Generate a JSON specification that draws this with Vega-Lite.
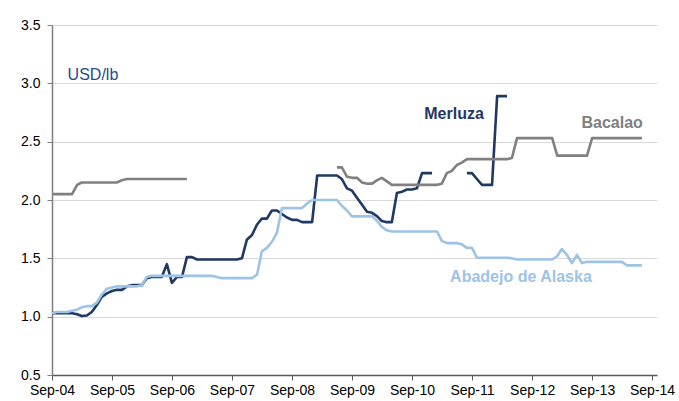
{
  "$schema": "https://vega.github.io/schema/vega-lite/v6.json",
  "width": 605,
  "height": 350,
  "autosize": "none",
  "padding": {"left": 52, "top": 25, "right": 22, "bottom": 26},
  "config": {"view": {"stroke": null}, "font": "Liberation Sans"},
  "datasets": {
    "lines": [
      {"s": "Merluza", "g": "M1", "d": "2004-09-01", "v": 1.03},
      {"s": "Merluza", "g": "M1", "d": "2004-10-01", "v": 1.03},
      {"s": "Merluza", "g": "M1", "d": "2004-11-01", "v": 1.03},
      {"s": "Merluza", "g": "M1", "d": "2004-12-01", "v": 1.03},
      {"s": "Merluza", "g": "M1", "d": "2005-01-01", "v": 1.03},
      {"s": "Merluza", "g": "M1", "d": "2005-02-01", "v": 1.02},
      {"s": "Merluza", "g": "M1", "d": "2005-03-01", "v": 1.005},
      {"s": "Merluza", "g": "M1", "d": "2005-04-01", "v": 1.01},
      {"s": "Merluza", "g": "M1", "d": "2005-05-01", "v": 1.04},
      {"s": "Merluza", "g": "M1", "d": "2005-06-01", "v": 1.10},
      {"s": "Merluza", "g": "M1", "d": "2005-07-01", "v": 1.17},
      {"s": "Merluza", "g": "M1", "d": "2005-08-01", "v": 1.20},
      {"s": "Merluza", "g": "M1", "d": "2005-09-01", "v": 1.22},
      {"s": "Merluza", "g": "M1", "d": "2005-10-01", "v": 1.23},
      {"s": "Merluza", "g": "M1", "d": "2005-11-01", "v": 1.23},
      {"s": "Merluza", "g": "M1", "d": "2005-12-01", "v": 1.26},
      {"s": "Merluza", "g": "M1", "d": "2006-01-01", "v": 1.27},
      {"s": "Merluza", "g": "M1", "d": "2006-02-01", "v": 1.27},
      {"s": "Merluza", "g": "M1", "d": "2006-03-01", "v": 1.27},
      {"s": "Merluza", "g": "M1", "d": "2006-04-01", "v": 1.33},
      {"s": "Merluza", "g": "M1", "d": "2006-05-01", "v": 1.34},
      {"s": "Merluza", "g": "M1", "d": "2006-06-01", "v": 1.34},
      {"s": "Merluza", "g": "M1", "d": "2006-07-01", "v": 1.34},
      {"s": "Merluza", "g": "M1", "d": "2006-08-01", "v": 1.45},
      {"s": "Merluza", "g": "M1", "d": "2006-09-01", "v": 1.29},
      {"s": "Merluza", "g": "M1", "d": "2006-10-01", "v": 1.34},
      {"s": "Merluza", "g": "M1", "d": "2006-11-01", "v": 1.34},
      {"s": "Merluza", "g": "M1", "d": "2006-12-01", "v": 1.51},
      {"s": "Merluza", "g": "M1", "d": "2007-01-01", "v": 1.51},
      {"s": "Merluza", "g": "M1", "d": "2007-02-01", "v": 1.49},
      {"s": "Merluza", "g": "M1", "d": "2007-03-01", "v": 1.49},
      {"s": "Merluza", "g": "M1", "d": "2007-04-01", "v": 1.49},
      {"s": "Merluza", "g": "M1", "d": "2007-05-01", "v": 1.49},
      {"s": "Merluza", "g": "M1", "d": "2007-06-01", "v": 1.49},
      {"s": "Merluza", "g": "M1", "d": "2007-07-01", "v": 1.49},
      {"s": "Merluza", "g": "M1", "d": "2007-08-01", "v": 1.49},
      {"s": "Merluza", "g": "M1", "d": "2007-09-01", "v": 1.49},
      {"s": "Merluza", "g": "M1", "d": "2007-10-01", "v": 1.49},
      {"s": "Merluza", "g": "M1", "d": "2007-11-01", "v": 1.50},
      {"s": "Merluza", "g": "M1", "d": "2007-12-01", "v": 1.66},
      {"s": "Merluza", "g": "M1", "d": "2008-01-01", "v": 1.70},
      {"s": "Merluza", "g": "M1", "d": "2008-02-01", "v": 1.79},
      {"s": "Merluza", "g": "M1", "d": "2008-03-01", "v": 1.84},
      {"s": "Merluza", "g": "M1", "d": "2008-04-01", "v": 1.84},
      {"s": "Merluza", "g": "M1", "d": "2008-05-01", "v": 1.91},
      {"s": "Merluza", "g": "M1", "d": "2008-06-01", "v": 1.91},
      {"s": "Merluza", "g": "M1", "d": "2008-07-01", "v": 1.88},
      {"s": "Merluza", "g": "M1", "d": "2008-08-01", "v": 1.85},
      {"s": "Merluza", "g": "M1", "d": "2008-09-01", "v": 1.83},
      {"s": "Merluza", "g": "M1", "d": "2008-10-01", "v": 1.83},
      {"s": "Merluza", "g": "M1", "d": "2008-11-01", "v": 1.81},
      {"s": "Merluza", "g": "M1", "d": "2008-12-01", "v": 1.81},
      {"s": "Merluza", "g": "M1", "d": "2009-01-01", "v": 1.81},
      {"s": "Merluza", "g": "M1", "d": "2009-02-01", "v": 2.21},
      {"s": "Merluza", "g": "M1", "d": "2009-03-01", "v": 2.21},
      {"s": "Merluza", "g": "M1", "d": "2009-04-01", "v": 2.21},
      {"s": "Merluza", "g": "M1", "d": "2009-05-01", "v": 2.21},
      {"s": "Merluza", "g": "M1", "d": "2009-06-01", "v": 2.21},
      {"s": "Merluza", "g": "M1", "d": "2009-07-01", "v": 2.18},
      {"s": "Merluza", "g": "M1", "d": "2009-08-01", "v": 2.10},
      {"s": "Merluza", "g": "M1", "d": "2009-09-01", "v": 2.08},
      {"s": "Merluza", "g": "M1", "d": "2009-10-01", "v": 2.02},
      {"s": "Merluza", "g": "M1", "d": "2009-11-01", "v": 1.96},
      {"s": "Merluza", "g": "M1", "d": "2009-12-01", "v": 1.90},
      {"s": "Merluza", "g": "M1", "d": "2010-01-01", "v": 1.89},
      {"s": "Merluza", "g": "M1", "d": "2010-02-01", "v": 1.86},
      {"s": "Merluza", "g": "M1", "d": "2010-03-01", "v": 1.82},
      {"s": "Merluza", "g": "M1", "d": "2010-04-01", "v": 1.81},
      {"s": "Merluza", "g": "M1", "d": "2010-05-01", "v": 1.81},
      {"s": "Merluza", "g": "M1", "d": "2010-06-01", "v": 2.06},
      {"s": "Merluza", "g": "M1", "d": "2010-07-01", "v": 2.07},
      {"s": "Merluza", "g": "M1", "d": "2010-08-01", "v": 2.09},
      {"s": "Merluza", "g": "M1", "d": "2010-09-01", "v": 2.09},
      {"s": "Merluza", "g": "M1", "d": "2010-10-01", "v": 2.10},
      {"s": "Merluza", "g": "M1", "d": "2010-11-01", "v": 2.23},
      {"s": "Merluza", "g": "M1", "d": "2010-12-01", "v": 2.23},
      {"s": "Merluza", "g": "M1", "d": "2011-01-01", "v": 2.23},
      {"s": "Merluza", "g": "M2", "d": "2011-08-01", "v": 2.23},
      {"s": "Merluza", "g": "M2", "d": "2011-09-01", "v": 2.23},
      {"s": "Merluza", "g": "M2", "d": "2011-10-01", "v": 2.18},
      {"s": "Merluza", "g": "M2", "d": "2011-11-01", "v": 2.13},
      {"s": "Merluza", "g": "M2", "d": "2011-12-01", "v": 2.13},
      {"s": "Merluza", "g": "M2", "d": "2012-01-01", "v": 2.13},
      {"s": "Merluza", "g": "M2", "d": "2012-02-01", "v": 2.89},
      {"s": "Merluza", "g": "M2", "d": "2012-03-01", "v": 2.89},
      {"s": "Merluza", "g": "M2", "d": "2012-04-01", "v": 2.89},
      {"s": "Bacalao", "g": "B1", "d": "2004-09-01", "v": 2.05},
      {"s": "Bacalao", "g": "B1", "d": "2004-10-01", "v": 2.05},
      {"s": "Bacalao", "g": "B1", "d": "2004-11-01", "v": 2.05},
      {"s": "Bacalao", "g": "B1", "d": "2004-12-01", "v": 2.05},
      {"s": "Bacalao", "g": "B1", "d": "2005-01-01", "v": 2.05},
      {"s": "Bacalao", "g": "B1", "d": "2005-02-01", "v": 2.13},
      {"s": "Bacalao", "g": "B1", "d": "2005-03-01", "v": 2.15},
      {"s": "Bacalao", "g": "B1", "d": "2005-04-01", "v": 2.15},
      {"s": "Bacalao", "g": "B1", "d": "2005-05-01", "v": 2.15},
      {"s": "Bacalao", "g": "B1", "d": "2005-06-01", "v": 2.15},
      {"s": "Bacalao", "g": "B1", "d": "2005-07-01", "v": 2.15},
      {"s": "Bacalao", "g": "B1", "d": "2005-08-01", "v": 2.15},
      {"s": "Bacalao", "g": "B1", "d": "2005-09-01", "v": 2.15},
      {"s": "Bacalao", "g": "B1", "d": "2005-10-01", "v": 2.15},
      {"s": "Bacalao", "g": "B1", "d": "2005-11-01", "v": 2.17},
      {"s": "Bacalao", "g": "B1", "d": "2005-12-01", "v": 2.18},
      {"s": "Bacalao", "g": "B1", "d": "2006-01-01", "v": 2.18},
      {"s": "Bacalao", "g": "B1", "d": "2006-02-01", "v": 2.18},
      {"s": "Bacalao", "g": "B1", "d": "2006-03-01", "v": 2.18},
      {"s": "Bacalao", "g": "B1", "d": "2006-04-01", "v": 2.18},
      {"s": "Bacalao", "g": "B1", "d": "2006-05-01", "v": 2.18},
      {"s": "Bacalao", "g": "B1", "d": "2006-06-01", "v": 2.18},
      {"s": "Bacalao", "g": "B1", "d": "2006-07-01", "v": 2.18},
      {"s": "Bacalao", "g": "B1", "d": "2006-08-01", "v": 2.18},
      {"s": "Bacalao", "g": "B1", "d": "2006-09-01", "v": 2.18},
      {"s": "Bacalao", "g": "B1", "d": "2006-10-01", "v": 2.18},
      {"s": "Bacalao", "g": "B1", "d": "2006-11-01", "v": 2.18},
      {"s": "Bacalao", "g": "B1", "d": "2006-12-01", "v": 2.18},
      {"s": "Bacalao", "g": "B2", "d": "2009-06-01", "v": 2.28},
      {"s": "Bacalao", "g": "B2", "d": "2009-07-01", "v": 2.28},
      {"s": "Bacalao", "g": "B2", "d": "2009-08-01", "v": 2.20},
      {"s": "Bacalao", "g": "B2", "d": "2009-09-01", "v": 2.19},
      {"s": "Bacalao", "g": "B2", "d": "2009-10-01", "v": 2.19},
      {"s": "Bacalao", "g": "B2", "d": "2009-11-01", "v": 2.15},
      {"s": "Bacalao", "g": "B2", "d": "2009-12-01", "v": 2.14},
      {"s": "Bacalao", "g": "B2", "d": "2010-01-01", "v": 2.14},
      {"s": "Bacalao", "g": "B2", "d": "2010-02-01", "v": 2.17},
      {"s": "Bacalao", "g": "B2", "d": "2010-03-01", "v": 2.19},
      {"s": "Bacalao", "g": "B2", "d": "2010-04-01", "v": 2.16},
      {"s": "Bacalao", "g": "B2", "d": "2010-05-01", "v": 2.13},
      {"s": "Bacalao", "g": "B2", "d": "2010-06-01", "v": 2.13},
      {"s": "Bacalao", "g": "B2", "d": "2010-07-01", "v": 2.13},
      {"s": "Bacalao", "g": "B2", "d": "2010-08-01", "v": 2.13},
      {"s": "Bacalao", "g": "B2", "d": "2010-09-01", "v": 2.13},
      {"s": "Bacalao", "g": "B2", "d": "2010-10-01", "v": 2.13},
      {"s": "Bacalao", "g": "B2", "d": "2010-11-01", "v": 2.13},
      {"s": "Bacalao", "g": "B2", "d": "2010-12-01", "v": 2.13},
      {"s": "Bacalao", "g": "B2", "d": "2011-01-01", "v": 2.13},
      {"s": "Bacalao", "g": "B2", "d": "2011-02-01", "v": 2.13},
      {"s": "Bacalao", "g": "B2", "d": "2011-03-01", "v": 2.14},
      {"s": "Bacalao", "g": "B2", "d": "2011-04-01", "v": 2.23},
      {"s": "Bacalao", "g": "B2", "d": "2011-05-01", "v": 2.25},
      {"s": "Bacalao", "g": "B2", "d": "2011-06-01", "v": 2.30},
      {"s": "Bacalao", "g": "B2", "d": "2011-07-01", "v": 2.32},
      {"s": "Bacalao", "g": "B2", "d": "2011-08-01", "v": 2.35},
      {"s": "Bacalao", "g": "B2", "d": "2011-09-01", "v": 2.35},
      {"s": "Bacalao", "g": "B2", "d": "2011-10-01", "v": 2.35},
      {"s": "Bacalao", "g": "B2", "d": "2011-11-01", "v": 2.35},
      {"s": "Bacalao", "g": "B2", "d": "2011-12-01", "v": 2.35},
      {"s": "Bacalao", "g": "B2", "d": "2012-01-01", "v": 2.35},
      {"s": "Bacalao", "g": "B2", "d": "2012-02-01", "v": 2.35},
      {"s": "Bacalao", "g": "B2", "d": "2012-03-01", "v": 2.35},
      {"s": "Bacalao", "g": "B2", "d": "2012-04-01", "v": 2.35},
      {"s": "Bacalao", "g": "B2", "d": "2012-05-01", "v": 2.36},
      {"s": "Bacalao", "g": "B2", "d": "2012-06-01", "v": 2.53},
      {"s": "Bacalao", "g": "B2", "d": "2012-07-01", "v": 2.53},
      {"s": "Bacalao", "g": "B2", "d": "2012-08-01", "v": 2.53},
      {"s": "Bacalao", "g": "B2", "d": "2012-09-01", "v": 2.53},
      {"s": "Bacalao", "g": "B2", "d": "2012-10-01", "v": 2.53},
      {"s": "Bacalao", "g": "B2", "d": "2012-11-01", "v": 2.53},
      {"s": "Bacalao", "g": "B2", "d": "2012-12-01", "v": 2.53},
      {"s": "Bacalao", "g": "B2", "d": "2013-01-01", "v": 2.53},
      {"s": "Bacalao", "g": "B2", "d": "2013-02-01", "v": 2.38},
      {"s": "Bacalao", "g": "B2", "d": "2013-03-01", "v": 2.38},
      {"s": "Bacalao", "g": "B2", "d": "2013-04-01", "v": 2.38},
      {"s": "Bacalao", "g": "B2", "d": "2013-05-01", "v": 2.38},
      {"s": "Bacalao", "g": "B2", "d": "2013-06-01", "v": 2.38},
      {"s": "Bacalao", "g": "B2", "d": "2013-07-01", "v": 2.38},
      {"s": "Bacalao", "g": "B2", "d": "2013-08-01", "v": 2.38},
      {"s": "Bacalao", "g": "B2", "d": "2013-09-01", "v": 2.53},
      {"s": "Bacalao", "g": "B2", "d": "2013-10-01", "v": 2.53},
      {"s": "Bacalao", "g": "B2", "d": "2013-11-01", "v": 2.53},
      {"s": "Bacalao", "g": "B2", "d": "2013-12-01", "v": 2.53},
      {"s": "Bacalao", "g": "B2", "d": "2014-01-01", "v": 2.53},
      {"s": "Bacalao", "g": "B2", "d": "2014-02-01", "v": 2.53},
      {"s": "Bacalao", "g": "B2", "d": "2014-03-01", "v": 2.53},
      {"s": "Bacalao", "g": "B2", "d": "2014-04-01", "v": 2.53},
      {"s": "Bacalao", "g": "B2", "d": "2014-05-01", "v": 2.53},
      {"s": "Bacalao", "g": "B2", "d": "2014-06-01", "v": 2.53},
      {"s": "Bacalao", "g": "B2", "d": "2014-07-01", "v": 2.53},
      {"s": "Abadejo de Alaska", "g": "A1", "d": "2004-09-01", "v": 1.03},
      {"s": "Abadejo de Alaska", "g": "A1", "d": "2004-10-01", "v": 1.04},
      {"s": "Abadejo de Alaska", "g": "A1", "d": "2004-11-01", "v": 1.04},
      {"s": "Abadejo de Alaska", "g": "A1", "d": "2004-12-01", "v": 1.04},
      {"s": "Abadejo de Alaska", "g": "A1", "d": "2005-01-01", "v": 1.05},
      {"s": "Abadejo de Alaska", "g": "A1", "d": "2005-02-01", "v": 1.06},
      {"s": "Abadejo de Alaska", "g": "A1", "d": "2005-03-01", "v": 1.08},
      {"s": "Abadejo de Alaska", "g": "A1", "d": "2005-04-01", "v": 1.09},
      {"s": "Abadejo de Alaska", "g": "A1", "d": "2005-05-01", "v": 1.09},
      {"s": "Abadejo de Alaska", "g": "A1", "d": "2005-06-01", "v": 1.12},
      {"s": "Abadejo de Alaska", "g": "A1", "d": "2005-07-01", "v": 1.19},
      {"s": "Abadejo de Alaska", "g": "A1", "d": "2005-08-01", "v": 1.24},
      {"s": "Abadejo de Alaska", "g": "A1", "d": "2005-09-01", "v": 1.25},
      {"s": "Abadejo de Alaska", "g": "A1", "d": "2005-10-01", "v": 1.26},
      {"s": "Abadejo de Alaska", "g": "A1", "d": "2005-11-01", "v": 1.26},
      {"s": "Abadejo de Alaska", "g": "A1", "d": "2005-12-01", "v": 1.26},
      {"s": "Abadejo de Alaska", "g": "A1", "d": "2006-01-01", "v": 1.26},
      {"s": "Abadejo de Alaska", "g": "A1", "d": "2006-02-01", "v": 1.26},
      {"s": "Abadejo de Alaska", "g": "A1", "d": "2006-03-01", "v": 1.27},
      {"s": "Abadejo de Alaska", "g": "A1", "d": "2006-04-01", "v": 1.34},
      {"s": "Abadejo de Alaska", "g": "A1", "d": "2006-05-01", "v": 1.35},
      {"s": "Abadejo de Alaska", "g": "A1", "d": "2006-06-01", "v": 1.35},
      {"s": "Abadejo de Alaska", "g": "A1", "d": "2006-07-01", "v": 1.35},
      {"s": "Abadejo de Alaska", "g": "A1", "d": "2006-08-01", "v": 1.35},
      {"s": "Abadejo de Alaska", "g": "A1", "d": "2006-09-01", "v": 1.35},
      {"s": "Abadejo de Alaska", "g": "A1", "d": "2006-10-01", "v": 1.35},
      {"s": "Abadejo de Alaska", "g": "A1", "d": "2006-11-01", "v": 1.35},
      {"s": "Abadejo de Alaska", "g": "A1", "d": "2006-12-01", "v": 1.35},
      {"s": "Abadejo de Alaska", "g": "A1", "d": "2007-01-01", "v": 1.35},
      {"s": "Abadejo de Alaska", "g": "A1", "d": "2007-02-01", "v": 1.35},
      {"s": "Abadejo de Alaska", "g": "A1", "d": "2007-03-01", "v": 1.35},
      {"s": "Abadejo de Alaska", "g": "A1", "d": "2007-04-01", "v": 1.35},
      {"s": "Abadejo de Alaska", "g": "A1", "d": "2007-05-01", "v": 1.35},
      {"s": "Abadejo de Alaska", "g": "A1", "d": "2007-06-01", "v": 1.34},
      {"s": "Abadejo de Alaska", "g": "A1", "d": "2007-07-01", "v": 1.33},
      {"s": "Abadejo de Alaska", "g": "A1", "d": "2007-08-01", "v": 1.33},
      {"s": "Abadejo de Alaska", "g": "A1", "d": "2007-09-01", "v": 1.33},
      {"s": "Abadejo de Alaska", "g": "A1", "d": "2007-10-01", "v": 1.33},
      {"s": "Abadejo de Alaska", "g": "A1", "d": "2007-11-01", "v": 1.33},
      {"s": "Abadejo de Alaska", "g": "A1", "d": "2007-12-01", "v": 1.33},
      {"s": "Abadejo de Alaska", "g": "A1", "d": "2008-01-01", "v": 1.33},
      {"s": "Abadejo de Alaska", "g": "A1", "d": "2008-02-01", "v": 1.36},
      {"s": "Abadejo de Alaska", "g": "A1", "d": "2008-03-01", "v": 1.56},
      {"s": "Abadejo de Alaska", "g": "A1", "d": "2008-04-01", "v": 1.59},
      {"s": "Abadejo de Alaska", "g": "A1", "d": "2008-05-01", "v": 1.64},
      {"s": "Abadejo de Alaska", "g": "A1", "d": "2008-06-01", "v": 1.72},
      {"s": "Abadejo de Alaska", "g": "A1", "d": "2008-07-01", "v": 1.93},
      {"s": "Abadejo de Alaska", "g": "A1", "d": "2008-08-01", "v": 1.93},
      {"s": "Abadejo de Alaska", "g": "A1", "d": "2008-09-01", "v": 1.93},
      {"s": "Abadejo de Alaska", "g": "A1", "d": "2008-10-01", "v": 1.93},
      {"s": "Abadejo de Alaska", "g": "A1", "d": "2008-11-01", "v": 1.93},
      {"s": "Abadejo de Alaska", "g": "A1", "d": "2008-12-01", "v": 1.97},
      {"s": "Abadejo de Alaska", "g": "A1", "d": "2009-01-01", "v": 2.00},
      {"s": "Abadejo de Alaska", "g": "A1", "d": "2009-02-01", "v": 2.00},
      {"s": "Abadejo de Alaska", "g": "A1", "d": "2009-03-01", "v": 2.00},
      {"s": "Abadejo de Alaska", "g": "A1", "d": "2009-04-01", "v": 2.00},
      {"s": "Abadejo de Alaska", "g": "A1", "d": "2009-05-01", "v": 2.00},
      {"s": "Abadejo de Alaska", "g": "A1", "d": "2009-06-01", "v": 2.00},
      {"s": "Abadejo de Alaska", "g": "A1", "d": "2009-07-01", "v": 1.95},
      {"s": "Abadejo de Alaska", "g": "A1", "d": "2009-08-01", "v": 1.91},
      {"s": "Abadejo de Alaska", "g": "A1", "d": "2009-09-01", "v": 1.86},
      {"s": "Abadejo de Alaska", "g": "A1", "d": "2009-10-01", "v": 1.86},
      {"s": "Abadejo de Alaska", "g": "A1", "d": "2009-11-01", "v": 1.86},
      {"s": "Abadejo de Alaska", "g": "A1", "d": "2009-12-01", "v": 1.86},
      {"s": "Abadejo de Alaska", "g": "A1", "d": "2010-01-01", "v": 1.86},
      {"s": "Abadejo de Alaska", "g": "A1", "d": "2010-02-01", "v": 1.82},
      {"s": "Abadejo de Alaska", "g": "A1", "d": "2010-03-01", "v": 1.77},
      {"s": "Abadejo de Alaska", "g": "A1", "d": "2010-04-01", "v": 1.74},
      {"s": "Abadejo de Alaska", "g": "A1", "d": "2010-05-01", "v": 1.73},
      {"s": "Abadejo de Alaska", "g": "A1", "d": "2010-06-01", "v": 1.73},
      {"s": "Abadejo de Alaska", "g": "A1", "d": "2010-07-01", "v": 1.73},
      {"s": "Abadejo de Alaska", "g": "A1", "d": "2010-08-01", "v": 1.73},
      {"s": "Abadejo de Alaska", "g": "A1", "d": "2010-09-01", "v": 1.73},
      {"s": "Abadejo de Alaska", "g": "A1", "d": "2010-10-01", "v": 1.73},
      {"s": "Abadejo de Alaska", "g": "A1", "d": "2010-11-01", "v": 1.73},
      {"s": "Abadejo de Alaska", "g": "A1", "d": "2010-12-01", "v": 1.73},
      {"s": "Abadejo de Alaska", "g": "A1", "d": "2011-01-01", "v": 1.73},
      {"s": "Abadejo de Alaska", "g": "A1", "d": "2011-02-01", "v": 1.73},
      {"s": "Abadejo de Alaska", "g": "A1", "d": "2011-03-01", "v": 1.65},
      {"s": "Abadejo de Alaska", "g": "A1", "d": "2011-04-01", "v": 1.63},
      {"s": "Abadejo de Alaska", "g": "A1", "d": "2011-05-01", "v": 1.63},
      {"s": "Abadejo de Alaska", "g": "A1", "d": "2011-06-01", "v": 1.63},
      {"s": "Abadejo de Alaska", "g": "A1", "d": "2011-07-01", "v": 1.62},
      {"s": "Abadejo de Alaska", "g": "A1", "d": "2011-08-01", "v": 1.59},
      {"s": "Abadejo de Alaska", "g": "A1", "d": "2011-09-01", "v": 1.59},
      {"s": "Abadejo de Alaska", "g": "A1", "d": "2011-10-01", "v": 1.505},
      {"s": "Abadejo de Alaska", "g": "A1", "d": "2011-11-01", "v": 1.505},
      {"s": "Abadejo de Alaska", "g": "A1", "d": "2011-12-01", "v": 1.505},
      {"s": "Abadejo de Alaska", "g": "A1", "d": "2012-01-01", "v": 1.505},
      {"s": "Abadejo de Alaska", "g": "A1", "d": "2012-02-01", "v": 1.505},
      {"s": "Abadejo de Alaska", "g": "A1", "d": "2012-03-01", "v": 1.505},
      {"s": "Abadejo de Alaska", "g": "A1", "d": "2012-04-01", "v": 1.505},
      {"s": "Abadejo de Alaska", "g": "A1", "d": "2012-05-01", "v": 1.50},
      {"s": "Abadejo de Alaska", "g": "A1", "d": "2012-06-01", "v": 1.49},
      {"s": "Abadejo de Alaska", "g": "A1", "d": "2012-07-01", "v": 1.49},
      {"s": "Abadejo de Alaska", "g": "A1", "d": "2012-08-01", "v": 1.49},
      {"s": "Abadejo de Alaska", "g": "A1", "d": "2012-09-01", "v": 1.49},
      {"s": "Abadejo de Alaska", "g": "A1", "d": "2012-10-01", "v": 1.49},
      {"s": "Abadejo de Alaska", "g": "A1", "d": "2012-11-01", "v": 1.49},
      {"s": "Abadejo de Alaska", "g": "A1", "d": "2012-12-01", "v": 1.49},
      {"s": "Abadejo de Alaska", "g": "A1", "d": "2013-01-01", "v": 1.49},
      {"s": "Abadejo de Alaska", "g": "A1", "d": "2013-02-01", "v": 1.52},
      {"s": "Abadejo de Alaska", "g": "A1", "d": "2013-03-01", "v": 1.58},
      {"s": "Abadejo de Alaska", "g": "A1", "d": "2013-04-01", "v": 1.53},
      {"s": "Abadejo de Alaska", "g": "A1", "d": "2013-05-01", "v": 1.46},
      {"s": "Abadejo de Alaska", "g": "A1", "d": "2013-06-01", "v": 1.53},
      {"s": "Abadejo de Alaska", "g": "A1", "d": "2013-07-01", "v": 1.46},
      {"s": "Abadejo de Alaska", "g": "A1", "d": "2013-08-01", "v": 1.47},
      {"s": "Abadejo de Alaska", "g": "A1", "d": "2013-09-01", "v": 1.47},
      {"s": "Abadejo de Alaska", "g": "A1", "d": "2013-10-01", "v": 1.47},
      {"s": "Abadejo de Alaska", "g": "A1", "d": "2013-11-01", "v": 1.47},
      {"s": "Abadejo de Alaska", "g": "A1", "d": "2013-12-01", "v": 1.47},
      {"s": "Abadejo de Alaska", "g": "A1", "d": "2014-01-01", "v": 1.47},
      {"s": "Abadejo de Alaska", "g": "A1", "d": "2014-02-01", "v": 1.47},
      {"s": "Abadejo de Alaska", "g": "A1", "d": "2014-03-01", "v": 1.47},
      {"s": "Abadejo de Alaska", "g": "A1", "d": "2014-04-01", "v": 1.44},
      {"s": "Abadejo de Alaska", "g": "A1", "d": "2014-05-01", "v": 1.44},
      {"s": "Abadejo de Alaska", "g": "A1", "d": "2014-06-01", "v": 1.44},
      {"s": "Abadejo de Alaska", "g": "A1", "d": "2014-07-01", "v": 1.44}
    ],
    "labels": [
      {"s": "USD/lb", "d": "2004-12-05", "v": 3.07},
      {"s": "Merluza", "d": "2011-05-15", "v": 2.735},
      {"s": "Bacalao", "d": "2014-01-01", "v": 2.66},
      {"s": "Abadejo de Alaska", "d": "2012-06-25", "v": 1.34}
    ]
  },
  "encoding": {
    "x": {
      "field": "d",
      "type": "temporal",
      "scale": {"domain": [{"year": 2004, "month": 9, "date": 1}, {"year": 2014, "month": 10, "date": 1}]},
      "axis": {
        "title": null,
        "grid": false,
        "format": "%b-%y",
        "values": [
          {"year": 2004, "month": 9, "date": 1}, {"year": 2005, "month": 9, "date": 1},
          {"year": 2006, "month": 9, "date": 1}, {"year": 2007, "month": 9, "date": 1},
          {"year": 2008, "month": 9, "date": 1}, {"year": 2009, "month": 9, "date": 1},
          {"year": 2010, "month": 9, "date": 1}, {"year": 2011, "month": 9, "date": 1},
          {"year": 2012, "month": 9, "date": 1}, {"year": 2013, "month": 9, "date": 1},
          {"year": 2014, "month": 9, "date": 1}
        ],
        "labelFont": "Liberation Sans",
        "labelFontSize": 14,
        "labelColor": "#000000",
        "labelPadding": 3,
        "labelOverlap": false,
        "labelFlush": false,
        "tickSize": 5,
        "tickColor": "#595959",
        "domainColor": "#595959",
        "domainWidth": 1.5
      }
    },
    "y": {
      "field": "v",
      "type": "quantitative",
      "scale": {"domain": [0.5, 3.5], "nice": false, "zero": false},
      "axis": {
        "title": null,
        "values": [0.5, 1.0, 1.5, 2.0, 2.5, 3.0, 3.5],
        "format": ".1f",
        "grid": true,
        "gridColor": "#d9d9d9",
        "gridWidth": 1,
        "labelFont": "Liberation Sans",
        "labelFontSize": 14,
        "labelColor": "#000000",
        "labelPadding": 7,
        "tickSize": 5,
        "tickColor": "#7f7f7f",
        "domainColor": "#7f7f7f",
        "domainWidth": 1.5
      }
    }
  },
  "layer": [
    {
      "data": {"name": "lines"},
      "mark": {"type": "line", "strokeWidth": 2.6, "strokeJoin": "round"},
      "encoding": {
        "color": {
          "field": "s",
          "type": "nominal",
          "scale": {
            "domain": ["Merluza", "Bacalao", "Abadejo de Alaska", "USD/lb"],
            "range": ["#1f3864", "#808080", "#9dc3e6", "#2a4a86"]
          },
          "legend": null
        },
        "detail": {"field": "g", "type": "nominal"}
      }
    },
    {
      "data": {"name": "labels"},
      "transform": [{"filter": "datum.s !== 'USD/lb'"}],
      "mark": {"type": "text", "font": "Liberation Sans", "fontSize": 16, "fontWeight": "bold", "align": "center", "baseline": "middle"},
      "encoding": {
        "text": {"field": "s", "type": "nominal"},
        "color": {"field": "s", "type": "nominal", "legend": null}
      }
    },
    {
      "data": {"name": "labels"},
      "transform": [{"filter": "datum.s === 'USD/lb'"}],
      "mark": {"type": "text", "font": "Liberation Sans", "fontSize": 16, "align": "left", "baseline": "middle"},
      "encoding": {
        "text": {"field": "s", "type": "nominal"},
        "color": {"field": "s", "type": "nominal", "legend": null}
      }
    }
  ]
}
